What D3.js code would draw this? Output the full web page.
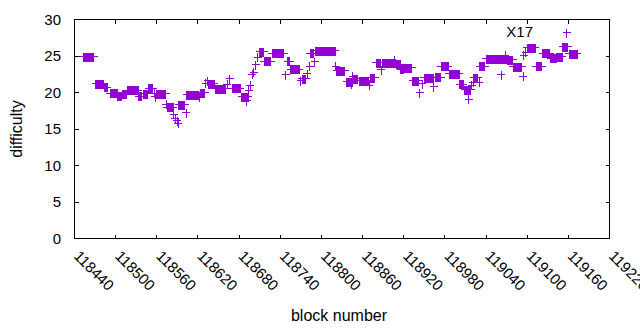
<!DOCTYPE html>
<html><head><meta charset="utf-8">
<script src="https://cdn.jsdelivr.net/npm/d3@7"></script>
<style>
body{margin:0;background:#fff}
text{font-family:"Liberation Sans",Arial,sans-serif;fill:#000}
</style>
</head><body>
<svg id="c" width="640" height="330"></svg>
<script>
// Each observation: a run of consecutive blocks [blockFrom..blockTo] at one difficulty
const blockFrom = [118453,118471,118484,118492,118503,118510,118517,118534,118540,118548,118557,118558,118560,118574,118575,118585,118587,118590,118591,118592,118603,118604,118622,118624,118631,118634,118635,118645,118663,118666,118670,118684,118691,118694,118696,118699,118701,118704,118707,118710,118717,118728,118748,118751,118755,118770,118772,118779,118783,118784,118790,118792,118821,118822,118837,118844,118846,118847,118855,118870,118872,118880,118887,118889,118906,118909,118916,118921,118933,118943,118947,118950,118964,118966,118975,118986,119002,119009,119015,119019,119021,119022,119030,119031,119040,119062,119063,119068,119071,119080,119094,119095,119098,119100,119113,119123,119134,119143,119152,119158,119161,119162];
const blockTo   = [118468,118482,118488,118502,118509,118516,118533,118538,118546,118554,118557,118558,118573,118574,118584,118585,118587,118590,118591,118601,118603,118621,118622,118630,118631,118634,118644,118660,118663,118666,118682,118693,118691,118694,118696,118699,118701,118704,118707,118716,118726,118745,118748,118754,118768,118770,118777,118779,118783,118788,118790,118820,118821,118834,118845,118844,118846,118853,118869,118870,118878,118886,118887,118908,118906,118915,118920,118932,118942,118943,118947,118963,118964,118974,118985,119001,119007,119018,119015,119019,119021,119028,119030,119038,119061,119062,119070,119068,119079,119092,119094,119095,119098,119112,119121,119133,119142,119151,119159,119158,119161,119173];
const difficulty = [24.9,21.2,20.7,19.9,19.5,19.8,20.3,19.5,19.8,20.6,19.9,19.4,19.8,18.4,18.0,17.0,16.5,16.1,15.8,18.3,17.2,19.7,19.4,20.0,21.3,21.6,21.2,20.5,21.1,21.9,20.6,19.4,18.9,20.3,21.0,22.5,22.8,23.8,24.8,25.6,24.3,25.4,22.4,24.3,23.2,21.6,21.9,22.6,23.6,25.4,24.2,25.7,23.6,23.0,21.5,21.2,22.2,21.9,21.6,21.0,22.0,24.1,23.1,24.1,24.4,23.9,23.2,23.4,21.6,20.0,21.2,22.0,20.8,22.1,23.6,22.6,21.1,20.4,19.1,21.0,21.4,22.0,21.4,23.6,24.6,22.4,24.6,25.1,24.5,23.5,22.2,25.1,25.5,26.1,23.6,25.4,24.7,24.9,26.3,28.2,25.3,25.3];

const xTicks = [118440,118500,118560,118620,118680,118740,118800,118860,118920,118980,119040,119100,119160,119220];
const yTicks = [0,5,10,15,20,25,30];
const xTitle = "block number";
const yTitle = "difficulty";
const noteText = ["X17"];
const noteBlock = [119089];
const noteDiff = [27.6];

const svg = d3.select("#c");
const L = 74.5, R = 609.5, T = 19.5, B = 238.5;
const x = d3.scaleLinear().domain([118440, 119220]).range([L, R]);
const y = d3.scaleLinear().domain([0, 30]).range([B, T]);
const col = "#9400d3";
const tk = 4;

// ticks (inward, mirrored)
const g = svg.append("g").attr("stroke","#000").attr("stroke-width",1).attr("shape-rendering","crispEdges");
yTicks.forEach(v => {
  g.append("line").attr("x1",L).attr("x2",L+tk).attr("y1",y(v)).attr("y2",y(v));
  g.append("line").attr("x1",R).attr("x2",R-tk).attr("y1",y(v)).attr("y2",y(v));
});
xTicks.forEach(v => {
  g.append("line").attr("x1",x(v)).attr("x2",x(v)).attr("y1",B).attr("y2",B-tk);
  g.append("line").attr("x1",x(v)).attr("x2",x(v)).attr("y1",T).attr("y2",T+tk);
});
g.append("rect").attr("x",L).attr("y",T).attr("width",R-L).attr("height",B-T).attr("fill","none");

// tick labels
svg.append("g").selectAll("text").data(yTicks).join("text")
  .attr("x",61).attr("y",d=>y(d)).attr("dy","0.36em").attr("text-anchor","end")
  .attr("font-size",15).text(d=>d);
svg.append("g").selectAll("text").data(xTicks).join("text")
  .attr("transform",d=>`translate(${x(d)-1.5},257) rotate(45)`)
  .attr("font-size",15).text(d=>d);

// titles
svg.append("text").attr("x",339).attr("y",321).attr("text-anchor","middle").attr("font-size",16).text(xTitle);
svg.append("text").attr("transform","translate(22,129) rotate(-90)").attr("text-anchor","middle").attr("font-size",16).text(yTitle);

// points
const idx = d3.range(difficulty.length);
const pts = svg.append("g").attr("shape-rendering","crispEdges");
pts.selectAll("line.h").data(idx).join("line").attr("class","h")
  .attr("x1",i=>x(blockFrom[i])-4).attr("x2",i=>x(blockTo[i])+4)
  .attr("y1",i=>y(difficulty[i])).attr("y2",i=>y(difficulty[i]))
  .attr("stroke",col).attr("stroke-width",1);
pts.selectAll("rect.v").data(idx).join("rect").attr("class","v")
  .attr("x",i=>x(blockFrom[i])-0.5).attr("width",i=>x(blockTo[i])-x(blockFrom[i])+1)
  .attr("y",i=>y(difficulty[i])-4).attr("height",9)
  .attr("fill",col);

// annotation
svg.append("g").selectAll("text").data(noteText).join("text")
  .attr("x",(d,i)=>x(noteBlock[i])).attr("y",(d,i)=>y(noteDiff[i]))
  .attr("text-anchor","middle").attr("font-size",15).text(d=>d);
</script>
</body></html>
